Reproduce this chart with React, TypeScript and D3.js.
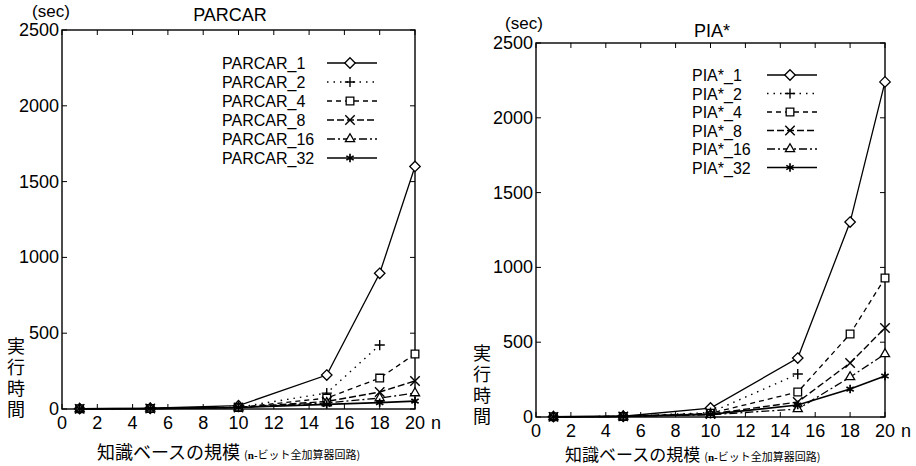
import React from 'react';
import * as d3 from 'd3';

// problem sizes (n-bit full adder)
const nValues = [1, 5, 10, 15, 18, 20];

// PARCAR run times (sec)
const parcar1 = [2, 5, 22, 224, 895, 1600];
const parcar2 = [1, 3, 12, 105, 422];
const parcar4 = [1, 3, 10, 72, 204, 363];
const parcar8 = [1, 3, 10, 50, 112, 185];
const parcar16 = [1, 3, 10, 40, 72, 105];
const parcar32 = [1, 3, 10, 30, 42, 52];

// PIA* run times (sec)
const pia1 = [2, 5, 60, 394, 1303, 2240];
const pia2 = [1, 4, 30, 287];
const pia4 = [1, 4, 25, 167, 555, 929];
const pia8 = [1, 4, 20, 100, 361, 595];
const pia16 = [1, 4, 15, 53, 267, 421];
const pia32 = [1, 4, 18, 80, 187, 274];

const parcarNames = ['PARCAR_1', 'PARCAR_2', 'PARCAR_4', 'PARCAR_8', 'PARCAR_16', 'PARCAR_32'];
const piaNames = ['PIA*_1', 'PIA*_2', 'PIA*_4', 'PIA*_8', 'PIA*_16', 'PIA*_32'];

const xTicks = [0, 2, 4, 6, 8, 10, 12, 14, 16, 18, 20];
const yTicks = [0, 500, 1000, 1500, 2000, 2500];

// one style per processor count
const styles = [
  { dash: null, symbol: d3.symbolDiamond2, size: 70, width: 1.3 },
  { dash: '1.5,5', symbol: d3.symbolPlus, size: 36, width: 1.4 },
  { dash: '5,4', symbol: d3.symbolSquare2, size: 75, width: 1.3 },
  { dash: '7,3', symbol: d3.symbolX, size: 60, width: 1.4 },
  { dash: '8,3,2,3', symbol: d3.symbolTriangle2, size: 60, width: 1.3 },
  { dash: null, symbol: d3.symbolAsterisk, size: 50, width: 1.7 },
];

const latin = 'Liberation Sans, Arial, sans-serif';
const cjk = 'Noto Sans CJK JP, sans-serif';

type PanelProps = {
  title: string;
  names: string[];
  series: number[][];
  x0: number; x1: number; yTop: number; yBottom: number;
  titleX: number; titleY: number;
  secX: number; secY: number;
  legendX: number; legendY: number; legendStep: number; lineX0: number; lineX1: number;
  ylabX: number; ylabY: number;
  xlabX: number; xlabY: number; xlabSize: number;
};

function Panel(p: PanelProps) {
  const x = d3.scaleLinear().domain([0, 20]).range([p.x0, p.x1]);
  const y = d3.scaleLinear().domain([0, 2500]).range([p.yBottom, p.yTop]);
  const line = d3.line<number>().x((d, i) => x(nValues[i])).y(d => y(d));
  const tick = 5;

  return (
    <g>
      {/* frame */}
      <rect x={p.x0} y={p.yTop} width={p.x1 - p.x0} height={p.yBottom - p.yTop}
        fill="none" stroke="#000" strokeWidth={1.4} />
      {xTicks.map(t => (
        <g key={'xt' + t}>
          <line x1={x(t)} x2={x(t)} y1={p.yBottom} y2={p.yBottom - tick} stroke="#000" />
          <line x1={x(t)} x2={x(t)} y1={p.yTop} y2={p.yTop + tick} stroke="#000" />
          <text x={x(t)} y={p.yBottom + 20} textAnchor="middle" fontFamily={latin} fontSize={18}>{t}</text>
        </g>
      ))}
      <text x={p.x1 + 16} y={p.yBottom + 20} fontFamily={latin} fontSize={18}>n</text>
      {yTicks.map(t => (
        <g key={'yt' + t}>
          <line x1={p.x0} x2={p.x0 + tick} y1={y(t)} y2={y(t)} stroke="#000" />
          <line x1={p.x1} x2={p.x1 - tick} y1={y(t)} y2={y(t)} stroke="#000" />
          <text x={p.x0 - 3} y={y(t) + 6} textAnchor="end" fontFamily={latin} fontSize={18}>{t}</text>
        </g>
      ))}
      <text x={p.secX} y={p.secY} textAnchor="middle" fontFamily={latin} fontSize={17}>(sec)</text>
      <text x={p.titleX} y={p.titleY} textAnchor="middle" fontFamily={latin} fontSize={18}>{p.title}</text>

      {/* series */}
      {p.series.map((vals, k) => (
        <g key={'s' + k}>
          <path d={line(vals) || ''} fill="none" stroke="#000" strokeWidth={styles[k].width}
            strokeDasharray={styles[k].dash || undefined} />
          {vals.map((v, i) => (
            <path key={i} transform={`translate(${x(nValues[i])},${y(v)})`}
              d={d3.symbol(styles[k].symbol, styles[k].size)() || ''}
              fill="#fff" stroke="#000" strokeWidth={styles[k].width} />
          ))}
        </g>
      ))}

      {/* legend */}
      {p.names.map((name, k) => {
        const ly = p.legendY + k * p.legendStep;
        const mx = (p.lineX0 + p.lineX1) / 2 - 2;
        return (
          <g key={'l' + k}>
            <text x={p.legendX} y={ly + 6} fontFamily={latin} fontSize={16}>{name}</text>
            <line x1={p.lineX0} x2={p.lineX1} y1={ly} y2={ly} stroke="#000" strokeWidth={styles[k].width}
              strokeDasharray={styles[k].dash || undefined} />
            <path transform={`translate(${mx},${ly})`} d={d3.symbol(styles[k].symbol, styles[k].size)() || ''}
              fill="#fff" stroke="#000" strokeWidth={styles[k].width} />
          </g>
        );
      })}

      {/* axis titles */}
      <text x={p.ylabX} y={p.ylabY} fontFamily={cjk} fontSize={18} letterSpacing={3}
        style={{ writingMode: 'vertical-rl' }}>実行時間</text>
      <text x={p.xlabX} y={p.xlabY} fontFamily={cjk} fontSize={p.xlabSize}>
        知識ベースの規模
        <tspan fontSize={11} dx={4}>(</tspan>
        <tspan fontSize={11} fontWeight="bold" fontFamily="Liberation Serif, serif">n-</tspan>
        <tspan fontSize={11}>ビット全加算器回路)</tspan>
      </text>
    </g>
  );
}

export default function App() {
  return (
    <svg width={916} height={466} style={{ position: 'absolute', left: 0, top: 0, background: '#fff' }}>
      <Panel title="PARCAR" names={parcarNames}
        series={[parcar1, parcar2, parcar4, parcar8, parcar16, parcar32]}
        x0={62} x1={415} yTop={30} yBottom={409}
        titleX={230} titleY={21} secX={51} secY={17}
        legendX={222} legendY={63} legendStep={19} lineX0={327} lineX1={377}
        ylabX={16} ylabY={337}
        xlabX={97} xlabY={459} xlabSize={18} />
      <Panel title="PIA*" names={piaNames}
        series={[pia1, pia2, pia4, pia8, pia16, pia32]}
        x0={536} x1={885} yTop={43} yBottom={417}
        titleX={712} titleY={37} secX={524} secY={29}
        legendX={692} legendY={75} legendStep={18.5} lineX0={767} lineX1={817}
        ylabX={482} ylabY={344}
        xlabX={565} xlabY={461} xlabSize={17} />
    </svg>
  );
}
